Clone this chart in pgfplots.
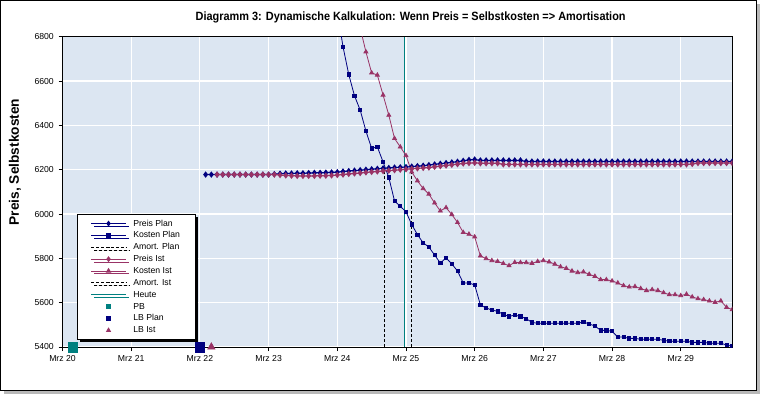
\documentclass[border=0pt]{standalone}
\usepackage{fontspec}
\setmainfont{Liberation Sans}
\newfontfamily\titlefont[FakeStretch=0.91]{Liberation Sans}
\usepackage{pgfplots}
\pgfplotsset{compat=1.18}
\usepackage{pgfplotstable}
\usetikzlibrary{shadows}
\definecolor{navy}{RGB}{0,0,128}
\definecolor{plum}{RGB}{153,51,102}
\definecolor{tealc}{RGB}{0,128,128}
\definecolor{bgblue}{RGB}{220,230,242}

% k = index of 2-hour steps, k=0 -> Mrz 22 02:00
\pgfplotstableread{
k pp kp pi ki
0 6178 nan nan nan
1 6178 nan nan nan
2 6178 nan 6178 nan
3 6178 nan 6178 nan
4 6178 nan 6178 nan
5 6178 nan 6178 nan
6 6178 nan 6178 nan
7 6178 nan 6178 nan
8 6178 nan 6178 nan
9 6178 nan 6178 nan
10 6178 nan 6178 nan
11 6178 nan 6178 nan
12 6180 nan 6178 nan
13 6182 nan 6176 nan
14 6183 nan 6174 nan
15 6183 nan 6173 nan
16 6184 nan 6172 nan
17 6184 nan 6172 nan
18 6185 7800 6172 nan
19 6186 7600 6172 nan
20 6186 7400 6173 nan
21 6187 7220 6173 nan
22 6188 7060 6174 7600
23 6189 6916 6176 7400
24 6192 6755 6178 7220
25 6194 6630 6181 7060
26 6196 6534 6183 6960
27 6198 6469 6185 6840
28 6200 6375 6188 6732
29 6202 6296 6190 6637
30 6204 6303 6192 6627
31 6206 6235 6194 6537
32 6208 6165 6196 6446
33 6210 6059 6198 6341
34 6211 6035 6200 6303
35 6212 6010 6202 6264
36 6214 5953 6204 6190
37 6216 5907 6206 6150
38 6218 5870 6208 6115
39 6221 5851 6210 6090
40 6224 5815 6213 6050
41 6227 5779 6216 6014
42 6230 5802 6219 6029
43 6233 5775 6222 5998
44 6236 5743 6225 5962
45 6240 5689 6228 5917
46 6244 5689 6230 5909
47 6246 5680 6231 5897
48 6242 5590 6229 5811
49 6242 5576 6229 5799
50 6242 5567 6229 5790
51 6242 5561 6229 5786
52 6242 5547 6224 5777
53 6242 5538 6224 5767
54 6242 5544 6224 5782
55 6242 5538 6224 5781
56 6237 5528 6224 5781
57 6237 5511 6224 5778
58 6237 5507 6224 5786
59 6237 5507 6224 5790
60 6237 5507 6224 5784
61 6237 5507 6224 5774
62 6237 5507 6224 5762
63 6237 5507 6224 5755
64 6237 5507 6224 5743
65 6237 5507 6224 5736
66 6237 5513 6224 5739
67 6237 5504 6224 5728
68 6237 5495 6224 5719
69 6237 5475 6224 5704
70 6237 5475 6224 5704
71 6237 5471 6224 5698
72 6237 5445 6224 5689
73 6237 5445 6224 5677
74 6237 5439 6224 5671
75 6237 5439 6224 5673
76 6237 5435 6224 5664
77 6237 5435 6224 5655
78 6237 5435 6224 5659
79 6237 5435 6224 5655
80 6237 5430 6224 5645
81 6237 5426 6224 5636
82 6237 5426 6224 5636
83 6237 5426 6224 5632
84 6237 5426 6224 5638
85 6237 5421 6226 5626
86 6237 5421 6230 5618
87 6237 5421 6230 5614
88 6237 5417 6230 5608
89 6237 5417 6230 5602
90 6237 5417 6230 5608
91 6237 5409 6230 5579
92 6237 5403 6230 5569
}\data

\pgfplotsset{
  baseaxis/.style={
    at={(46.875pt,35.25pt)}, anchor=south west,
    scale only axis, width=502.35pt, height=232.7pt,
    xmin=-25, xmax=92, ymin=5400, ymax=6800,
  },
  linelegend/.style={legend image code/.code={\draw[mark repeat=2,mark phase=2,##1] plot coordinates {(0pt,0pt)(13pt,0pt)(26pt,0pt)};}},
  marklegend/.style={legend image code/.code={\draw[##1] plot coordinates {(13pt,0pt)};}},
}

\begin{document}
\begin{tikzpicture}
\useasboundingbox (0,0) rectangle (570pt,295.5pt);
\fill[white] (0,0) rectangle (570pt,295.5pt);
\fill[gray!55] (3pt,0pt) rectangle (570pt,2.4pt);
\fill[gray!55] (567.6pt,0pt) rectangle (570pt,292.5pt);
\draw[black, line width=0.7pt] (0.35pt,2.4pt) rectangle (567.6pt,295.15pt);

\begin{axis}[baseaxis,
  axis background/.style={fill=bgblue},
  clip marker paths=true,
  axis line style={black, line width=0.75pt},
  xtick={-25,-13,-1,11,23,35,47,59,71,83},
  xticklabels={Mrz 20,Mrz 21,Mrz 22,Mrz 23,Mrz 24,Mrz 25,Mrz 26,Mrz 27,Mrz 28,Mrz 29},
  ytick={5400,5600,5800,6000,6200,6400,6600,6800},
  /pgf/number format/assume math mode=true,
  /pgf/number format/1000 sep={},
  tick label style={font=\fontsize{6.5}{7}\selectfont},
  tick align=outside, xtick pos=bottom, ytick pos=left,
  major tick length=3pt,
  tick style={black, line width=0.6pt},
  grid=major, major grid style={white, line width=0.9pt},
  linelegend,
  legend cell align=left,
  legend style={at={(0.0216,0.4286)}, anchor=north west,
    font=\fontsize{6.5}{7}\selectfont, draw=black, line width=0.6pt, fill=white,
    inner xsep=10pt, inner ysep=2.5pt, row sep=0.2pt,
    nodes={inner sep=1.2pt, text height=5pt, text depth=1.3pt},
    /tikz/every odd column/.append style={column sep=4pt},
    general shadow={shadow xshift=2.2pt, shadow yshift=-2.2pt, fill=black}},
]
% Heute
\addplot[tealc, line width=0.75pt, forget plot] coordinates {(34.75,5400) (34.75,6800)};
% Amortisation lines
\addplot[black, line width=0.75pt, dash pattern=on 2.2pt off 1.5pt, forget plot] coordinates {(31.2,5400) (31.2,6210)};
\addplot[black, line width=0.75pt, dash pattern=on 2.2pt off 1.5pt, forget plot] coordinates {(35.9,5400) (35.9,6200)};
% Kosten
\addplot[navy, line width=0.6pt, mark=square*, mark size=1.2pt, mark options={solid}, forget plot] table[x=k,y=kp] {\data};
\addplot[plum, line width=0.6pt, mark=triangle*, mark size=1.7pt, mark options={solid}, forget plot] table[x=k,y=ki] {\data};
% Preis
\addplot[navy, line width=0.9pt, mark=diamond*, mark size=1.7pt, forget plot] table[x=k,y=pp] {\data};
\addplot[plum, line width=0.9pt, mark=diamond*, mark size=1.7pt, forget plot] table[x=k,y=pi] {\data};

% legend entries
\addlegendimage{navy, line width=0.75pt, mark=diamond*, mark size=1.6pt}
\addlegendentry{Preis Plan}
\addlegendimage{navy, line width=0.75pt, mark=square*, mark size=1.2pt}
\addlegendentry{Kosten Plan}
\addlegendimage{black, line width=0.75pt, dash pattern=on 2.2pt off 1.5pt}
\addlegendentry{Amort. Plan}
\addlegendimage{plum, line width=0.75pt, mark=diamond*, mark size=1.6pt}
\addlegendentry{Preis Ist}
\addlegendimage{plum, line width=0.75pt, mark=triangle*, mark size=1.7pt}
\addlegendentry{Kosten Ist}
\addlegendimage{black, line width=0.75pt, dash pattern=on 2.2pt off 1.5pt}
\addlegendentry{Amort. Ist}
\addlegendimage{tealc, line width=0.75pt}
\addlegendentry{Heute}
\addlegendimage{marklegend, tealc, mark=square*, mark size=1.3pt}
\addlegendentry{PB}
\addlegendimage{marklegend, navy, mark=square*, mark size=1.3pt}
\addlegendentry{LB Plan}
\addlegendimage{marklegend, plum, mark=triangle*, mark size=1.7pt}
\addlegendentry{LB Ist}
\end{axis}

% big markers on the x axis (not clipped)
\begin{axis}[baseaxis, hide axis, clip=false]
\addplot[only marks, mark=square*, mark size=3.6pt, tealc] coordinates {(-23.2,5400)};
\addplot[only marks, mark=square*, mark size=3.6pt, navy] coordinates {(-1,5400)};
\addplot[only marks, mark=triangle*, mark size=3.2pt, plum] coordinates {(1,5400)};
\end{axis}

\node[font=\titlefont\bfseries\fontsize{9}{10}\selectfont] at (308pt,282.75pt) {Diagramm 3: Dynamische Kalkulation: Wenn Preis = Selbstkosten => Amortisation};
\node[rotate=90, font=\bfseries\fontsize{10.3}{12}\selectfont] at (11.25pt,174pt) {Preis, Selbstkosten};
\end{tikzpicture}
\end{document}
